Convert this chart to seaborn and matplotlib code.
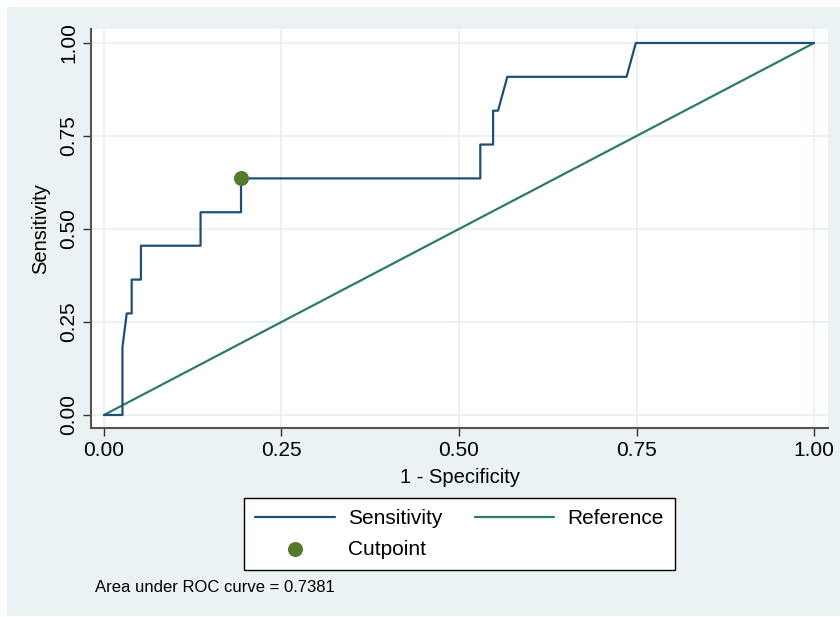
import numpy as np
import pandas as pd
import matplotlib
matplotlib.use('Agg')
import matplotlib.pyplot as plt
from matplotlib.patches import Rectangle
import seaborn as sns

# ROC points (1 - specificity, sensitivity)
fpr = [0.000, 0.026, 0.026, 0.032, 0.039, 0.039, 0.052, 0.052, 0.136, 0.136,
       0.193, 0.193, 0.530, 0.530, 0.548, 0.548, 0.555, 0.568, 0.736, 0.749, 1.000]
tpr = [0.000, 0.000, 0.182, 0.273, 0.273, 0.364, 0.364, 0.455, 0.455, 0.545,
       0.545, 0.636, 0.636, 0.727, 0.727, 0.818, 0.818, 0.909, 0.909, 1.000, 1.000]
ref_x = [0.0, 1.0]
ref_y = [0.0, 1.0]
cut_x = [0.193]
cut_y = [0.636]
ticks = [0.0, 0.25, 0.5, 0.75, 1.0]
tick_labels = ['0.00', '0.25', '0.50', '0.75', '1.00']
auc = 0.7381

bg = '#eaf2f3'
navy = '#1f4e79'
teal = '#2d7a6b'
green = '#557a2e'

sns.set_style('white')
plt.rcParams['font.family'] = ['Liberation Sans', 'DejaVu Sans']
plt.rcParams['text.color'] = 'black'
plt.rcParams['axes.labelcolor'] = 'black'

fig = plt.figure(figsize=(8.4, 6.17), dpi=100)
fig.patch.set_facecolor('white')
fig.patches.append(Rectangle((7 / 840, 1 - 616 / 617), 1 - 7 / 840, (616 - 7) / 617,
                             transform=fig.transFigure, facecolor=bg, edgecolor='none', zorder=-10))

ax = fig.add_axes([91 / 840, 1 - 428 / 617, (828 - 91) / 840, (428 - 29) / 617])
ax.set_zorder(1)
ax.set_facecolor('white')

roc = pd.DataFrame({'fpr': fpr, 'tpr': tpr})
sns.lineplot(data=roc, x='fpr', y='tpr', sort=False, estimator=None, color=navy, lw=1.6,
             ax=ax, label='Sensitivity', zorder=3)
diag = pd.DataFrame({'x': ref_x, 'y': ref_y})
sns.lineplot(data=diag, x='x', y='y', sort=False, estimator=None, color=teal, lw=1.6,
             ax=ax, label='Reference', zorder=2)
cut = pd.DataFrame({'x': cut_x, 'y': cut_y})
sns.scatterplot(data=cut, x='x', y='y', color=green, s=100, edgecolor=green, ax=ax,
                label='Cutpoint', zorder=4)

ax.set_xlim(-0.0183, 1.0197)
ax.set_ylim(-0.035, 1.0376)
ax.set_xticks(ticks)
ax.set_xticklabels(tick_labels)
ax.set_yticks(ticks)
ax.set_yticklabels(tick_labels, rotation=90, va='center')
ax.tick_params(axis='both', direction='out', length=6, width=1.0, color='#333333',
               labelsize=15, labelcolor='black', pad=3, left=True, bottom=True)
ax.grid(True, color=bg, lw=1.5)
ax.set_axisbelow(True)
for side in ['top', 'right']:
    ax.spines[side].set_visible(False)
for side in ['left', 'bottom']:
    ax.spines[side].set_color('#555555')
    ax.spines[side].set_linewidth(1.5)

ax.set_xlabel('1 - Specificity', fontsize=14.5, labelpad=6)
ax.set_ylabel('Sensitivity', fontsize=14.5, labelpad=7)

ax.get_legend().remove()
h, l = ax.get_legend_handles_labels()
order = [l.index('Sensitivity'), l.index('Cutpoint'), l.index('Reference')]
leg = fig.legend([h[i] for i in order], [l[i] for i in order], ncol=2,
                 loc='upper left', bbox_to_anchor=(244 / 840, 1 - 498 / 617),
                 fontsize=15, frameon=True, fancybox=False, shadow=False,
                 handlelength=3.8, handletextpad=0.65, columnspacing=1.55,
                 labelspacing=0.55, borderpad=0.55, borderaxespad=0)
leg.get_frame().set_edgecolor('black')
leg.get_frame().set_linewidth(1.0)
leg.get_frame().set_facecolor('white')
leg.get_frame().set_alpha(1)

fig.text(95 / 840, 1 - 587 / 617, 'Area under ROC curve = %.4f' % auc, fontsize=12,
         va='center', ha='left')

fig.savefig('out.png', dpi=100)
